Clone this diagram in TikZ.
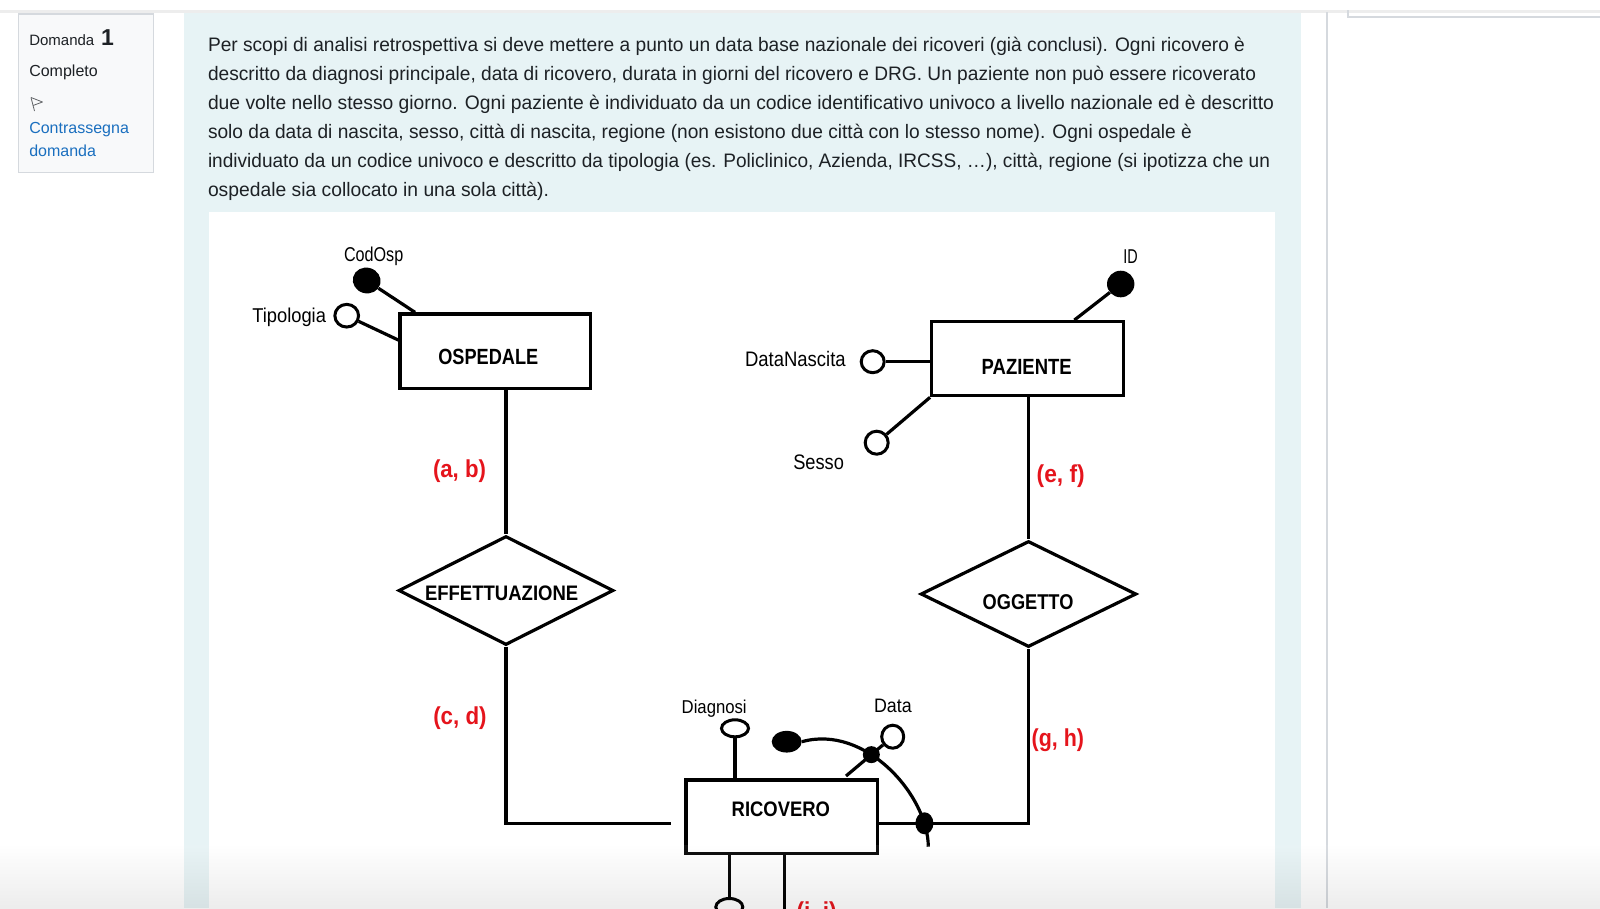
\documentclass[tikz,border=0pt]{standalone}
\usepackage{fontspec}
\setmainfont{Liberation Sans}
\newfontfamily\erfont{Liberation Sans}
\usetikzlibrary{shapes.geometric,calc,intersections}
\definecolor{panelblue}{HTML}{E7F3F5}
\definecolor{sidebg}{HTML}{F8F9FA}
\definecolor{sideborder}{HTML}{D5D9DE}
\definecolor{txt}{HTML}{1D2125}
\definecolor{linkblue}{HTML}{1A6FBF}
\definecolor{cardred}{HTML}{E5141C}
\newcommand{\fitw}[2]{\resizebox{#1pt}{\height}{#2}}
\begin{document}
\begin{tikzpicture}[x=1pt,y=-1pt,
  ptxt/.style={anchor=base west, inner sep=0, outer sep=0, text=txt, font=\fontsize{19.5}{19.5}\selectfont},
  sidetxt/.style={anchor=base west, inner sep=0, outer sep=0, text=txt, font=\fontsize{16}{16}\selectfont},
  attrlbl/.style={anchor=base west, inner sep=0, outer sep=0, text=black, font={\erfont\fontsize{20}{20}\selectfont}},
  entlbl/.style={anchor=base west, inner sep=0, outer sep=0, text=black, font={\erfont\bfseries\fontsize{22}{22}\selectfont}},
  redlbl/.style={anchor=base west, inner sep=0, outer sep=0, text=cardred, font={\erfont\bfseries\fontsize{24.5}{24.5}\selectfont}},
  entity/.style={draw, line width=3.3pt, rectangle, inner sep=0},
  relship/.style={draw, line width=3.2pt, diamond, inner sep=0, aspect=2},
  opencirc/.style={draw, line width=3pt, ellipse, fill=white, inner sep=0},
  keydot/.style={fill=black, ellipse, inner sep=0},
  conn/.style={line width=3.2pt}
]
\useasboundingbox (0,0) rectangle (1600,908);
\fill[white] (0,0) rectangle (1600,908);
% page chrome
\fill[panelblue] (183.7,12) rectangle (1301,908);
\fill[white] (209.2,212) rectangle (1274.8,908);
\fill[black!7] (0,10) rectangle (1600,12.5);
\draw[sideborder, line width=1.5pt] (1327,12) -- (1327,908);
\draw[sideborder, line width=1.2pt] (1348,10) -- (1348,17) -- (1600,17);
\draw[sideborder, line width=1.2pt, fill=sidebg] (18.3,14) rectangle (153.3,172.7);
% sidebar
\node[sidetxt, font=\fontsize{15}{15}\selectfont] (dom) at (29.3,45) {Domanda};
\node[sidetxt, font=\bfseries\fontsize{23}{23}\selectfont] (num) at (101,45) {1};
\node[sidetxt] (compl) at (29.3,76) {Completo};
\draw[txt!70, line width=0.8pt, line join=round] (31,97.5) -- (34.5,111);
\draw[txt!70, line width=0.8pt, line join=round] (31,97.5) -- (42.5,102) -- (33,105.5);
\node[sidetxt, text=linkblue] (flag1) at (29.3,133.3) {Contrassegna};
\node[sidetxt, text=linkblue] (flag2) at (29.3,156.7) {domanda};
% paragraph
\node[ptxt] (p1) at (208,51) {\fitw{1037}{Per scopi di analisi retrospettiva si deve mettere a punto un data base nazionale dei ricoveri (già conclusi). Ogni ricovero è}};
\node[ptxt] (p2) at (208,80) {\fitw{1048}{descritto da diagnosi principale, data di ricovero, durata in giorni del ricovero e DRG. Un paziente non può essere ricoverato}};
\node[ptxt] (p3) at (208,109) {\fitw{1066}{due volte nello stesso giorno. Ogni paziente è individuato da un codice identificativo univoco a livello nazionale ed è descritto}};
\node[ptxt] (p4) at (208,138) {\fitw{984}{solo da data di nascita, sesso, città di nascita, regione (non esistono due città con lo stesso nome). Ogni ospedale è}};
\node[ptxt] (p5) at (208,167) {\fitw{1062}{individuato da un codice univoco e descritto da tipologia (es. Policlinico, Azienda, IRCSS, …), città, regione (si ipotizza che un}};
\node[ptxt] (p6) at (208,196) {\fitw{341}{ospedale sia collocato in una sola città).}};
% entities
\node[entity, minimum width=190.7, minimum height=74.3] (osp) at (495.35,351.15) {};
\node[entity, minimum width=191.6, minimum height=74] (paz) at (1027.5,358.7) {};
\node[entity, minimum width=191.3, minimum height=73.3] (ric) at (781.65,816.65) {};
\node[entlbl] (ospt) at (438.3,364) {\fitw{100}{OSPEDALE}};
\node[entlbl] (pazt) at (981.7,374) {\fitw{90}{PAZIENTE}};
\node[entlbl, font={\erfont\bfseries\fontsize{21}{21}\selectfont}] (rict) at (731.7,816.7) {\fitw{98.3}{RICOVERO}};
% relationships
\node[relship, minimum width=215, minimum height=109] (eff) at (506,590.5) {};
\node[relship, minimum width=215.7, minimum height=106] (ogg) at (1028.5,594) {};
\node[entlbl, font={\erfont\bfseries\fontsize{21}{21}\selectfont}] (efft) at (425,600) {\fitw{153.3}{EFFETTUAZIONE}};
\node[entlbl, font={\erfont\bfseries\fontsize{21.4}{21.4}\selectfont}] (oggt) at (982.7,609.3) {\fitw{90.7}{OGGETTO}};
% links
\draw[conn] (eff.north |- osp.south) -- (eff.north);
\draw[conn] (eff.south) |- ($(ric.west)+(-13,6.6)$);
\draw[conn, name path=hline] ($(ric.east)+(0,6.6)$) -| (ogg.south);
\draw[conn] (ogg.north |- paz.south) -- (ogg.north);
% cardinalities
\node[redlbl] (cab) at (433,477.9) {\fitw{53}{(a, b)}};
\node[redlbl] (ccd) at (433.3,724.9) {\fitw{53.3}{(c, d)}};
\node[redlbl] (cef) at (1036.7,482.9) {\fitw{48}{(e, f)}};
\node[redlbl] (cgh) at (1031.7,746.6) {\fitw{52.3}{(g, h)}};
\node[redlbl] (cij) at (796.7,919.5) {\fitw{40}{(i, j)}};
% attributes of OSPEDALE
\node[keydot, minimum width=28, minimum height=25.7, rotate=-15] (codosp) at (366.7,280.5) {};
\node[opencirc, minimum width=23.7, minimum height=22.7] (tip) at (346.7,315.7) {};
\draw[conn] (codosp) -- ($(osp.north west)+(16.7,0)$);
\draw[conn] (tip) -- ($(osp.north west)+(0,27.7)$);
\node[attrlbl] (codospt) at (344,261.7) {\fitw{59.3}{CodOsp}};
\node[attrlbl] (tipt) at (252.3,322.7) {\fitw{73.7}{Tipologia}};
% attributes of PAZIENTE
\node[keydot, minimum width=27.4, minimum height=26.6] (id) at (1120.7,284) {};
\node[opencirc, minimum width=23, minimum height=22] (dn) at (872.7,361.7) {};
\node[opencirc, minimum width=23, minimum height=23] (ses) at (876.7,442.7) {};
\draw[conn] (id) -- ($(paz.north west)+(144.3,0)$);
\draw[conn] (dn) -- (dn -| paz.west);
\draw[conn] (ses) -- (paz.south west);
\node[attrlbl] (idt) at (1123.3,263.3) {\fitw{14.4}{ID}};
\node[attrlbl, font={\erfont\fontsize{21}{21}\selectfont}] (dnt) at (745,366.7) {\fitw{100.7}{DataNascita}};
\node[attrlbl, font={\erfont\fontsize{21}{21}\selectfont}] (sest) at (793.3,469.3) {\fitw{50.7}{Sesso}};
% attributes of RICOVERO
\node[opencirc, minimum width=27, minimum height=17] (diag) at (735,728.3) {};
\node[opencirc, minimum width=22, minimum height=23] (data) at (892.7,736.7) {};
\node[keydot, minimum width=30, minimum height=21.7] (key) at (786.7,741.7) {};
\coordinate (dataend) at (846,776);
\coordinate (curveend) at (928.3,846.7);
\draw[conn] (diag) -- (diag |- ric.north);
\draw[conn, name path=dline] (data) -- (dataend);
\draw[conn, name path=curve] (key.east) .. controls (865,724) and (928,795) .. (curveend);
\path[name intersections={of=curve and dline, by={j1}}];
\path[name intersections={of=curve and hline, by={j2}}];
\node[keydot, minimum size=17] (jd1) at (j1) {};
\node[keydot, minimum width=18, minimum height=22] (jd2) at (j2) {};
\node[attrlbl, font={\erfont\fontsize{18.6}{18.6}\selectfont}] (diagt) at (681.7,713.3) {\fitw{65}{Diagnosi}};
\node[attrlbl, font={\erfont\fontsize{19.5}{19.5}\selectfont}] (datat) at (874,712.3) {\fitw{37.7}{Data}};
% bottom (cut off)
\node[opencirc, minimum width=27, minimum height=17] (botc) at (729.3,907) {};
\coordinate (rbot) at (784.3,915);
\draw[conn] (botc) -- (botc |- ric.south);
\draw[conn] (rbot |- ric.south) -- (rbot);
% bottom fade
\shade[top color=white, bottom color=black, opacity=0.07] (0,845) rectangle (1600,908);
\end{tikzpicture}
\end{document}
